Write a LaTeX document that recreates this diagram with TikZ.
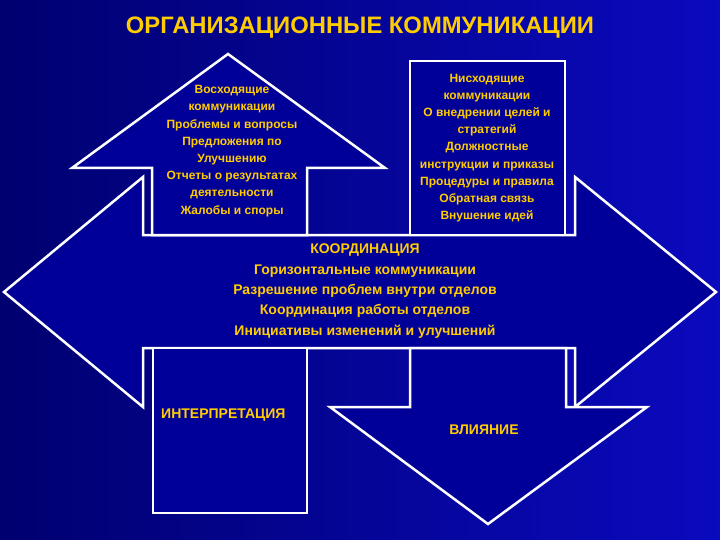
\documentclass[tikz,border=0pt]{standalone}
\usepackage{fontspec}
\setmainfont{Liberation Sans}
\definecolor{bgdark}{RGB}{0,0,112}
\definecolor{bglight}{RGB}{10,10,190}
\definecolor{panelblue}{RGB}{0,0,153}
\definecolor{gold}{RGB}{255,204,0}

\begin{document}
\begin{tikzpicture}[
    x=1pt, y=-1pt,
    panel/.style={fill=panelblue, draw=white, line width=2.5pt, line join=miter},
    headline/.style={text=gold, inner sep=0pt, font=\fontsize{23.8}{28}\selectfont\bfseries},
    uptext/.style={text=gold, align=center, inner sep=0pt, font=\fontsize{12}{17.2}\selectfont\bfseries},
    midtext/.style={text=gold, align=center, inner sep=0pt, font=\fontsize{14}{20.3}\selectfont\bfseries}
]

\useasboundingbox (0,0) rectangle (720,540);
\shade[left color=bgdark, right color=bglight] (0,0) rectangle (720,540);

\draw[panel] (4,292) -- (143,177) -- (143,235) -- (575,235) -- (575,177) -- (716,292)
    -- (575,407) -- (575,348) -- (143,348) -- (143,407) -- cycle;
\draw[panel] (228,54) -- (385,168) -- (307,168) -- (307,235) -- (152,235) -- (152,168) -- (72,168) -- cycle;
\draw[panel] (410,61) rectangle (565,235);
\draw[panel] (153,348) rectangle (307,513);
\draw[panel] (410,348) -- (566,348) -- (566,407) -- (647,407) -- (488,524) -- (330,407) -- (410,407) -- cycle;

\node[headline] (title) at (360,28) {ОРГАНИЗАЦИОННЫЕ КОММУНИКАЦИИ};
\node[uptext] (upward) at (232,151) {Восходящие\\коммуникации\\Проблемы и вопросы\\Предложения по\\Улучшению\\Отчеты о результатах\\деятельности\\Жалобы и споры};
\node[uptext] (downward) at (487,148) {Нисходящие\\коммуникации\\О внедрении целей и\\стратегий\\Должностные\\инструкции и приказы\\Процедуры и правила\\Обратная связь\\Внушение идей};
\node[midtext] (coordination) at (365,291) {КООРДИНАЦИЯ\\Горизонтальные коммуникации\\Разрешение проблем внутри отделов\\Координация работы отделов\\Инициативы изменений и улучшений};
\node[midtext, anchor=west] (interpretation) at (161,415) {ИНТЕРПРЕТАЦИЯ};
\node[midtext] (influence) at (484,430) {ВЛИЯНИЕ};

\end{tikzpicture}
\end{document}
